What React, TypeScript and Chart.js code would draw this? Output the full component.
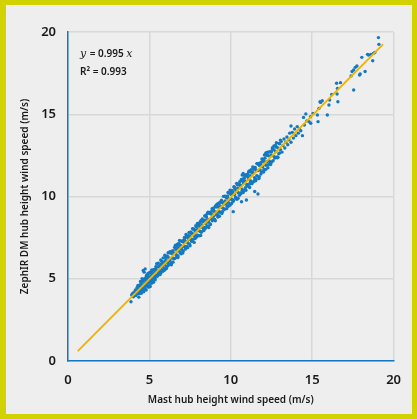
import React, { useEffect, useRef } from "react";
import { Chart, registerables } from "chart.js";

Chart.register(...registerables);

// Mast (x) vs ZephIR DM (y) hub height wind speed, m/s
const lowWindPoints: [number, number][] = [
  [3.87,3.6],[3.91,4.01],[3.97,4.1],[4.02,3.9],[4.06,4.18],[4.1,4.02],[4.14,4.32],[4.17,3.98],[4.2,4.2],[4.24,4.45],
  [4.27,4.08],[4.3,4.3],[4.33,4.55],[4.36,4.15],[4.39,4.38],[4.42,4.62],[4.45,4.22],[4.47,4.45],[4.5,4.7],[4.52,4.28],
  [4.55,4.52],[4.57,4.85],[4.6,4.35],[4.62,5.5],[4.64,4.62],[4.66,4.98],[4.68,5.4],[4.7,4.42],[4.72,4.75],[4.74,5.6],
  [4.76,5.05],[4.78,4.55],[4.8,4.88],[4.82,5.2],[4.84,4.62],[4.86,5.0],[4.88,4.75],[4.9,5.3],[4.92,4.52],[4.94,5.1],
  [4.96,4.82],[4.98,5.36],[5.0,4.6],[5.02,5.02],[5.04,4.78],[5.06,5.4],[5.08,4.88],[5.1,5.18],[5.13,4.72],[5.15,5.48],
  [5.18,5.0],[5.2,5.28],[5.23,4.9],[5.26,5.55],[5.29,5.12],[5.32,5.38],[5.35,5.02],[5.38,5.6],[5.41,5.2],[5.44,5.45],
  [5.47,5.15],[5.5,5.72],[5.53,5.3],[5.56,5.52],[5.59,5.25],[5.62,5.8],[5.65,5.42],[5.68,5.65],[5.71,5.35],[5.74,5.9],
  [5.77,5.52],[5.8,5.75],[5.83,5.45],[5.86,6.0],[5.89,5.62],[5.92,5.85],[5.95,5.55],[5.98,6.1]
];

const midWindPoints: [number, number][] = [
  [6.02,6.10],[6.05,5.76],[6.09,6.38],[6.11,5.99],[6.15,6.32],[6.18,5.83],[6.20,6.21],[6.24,6.58],[6.27,6.08],[6.30,6.24],
  [6.33,6.56],[6.36,5.96],[6.40,6.52],[6.42,6.27],[6.45,6.71],[6.49,6.23],[6.52,6.56],[6.55,6.23],[6.58,6.89],[6.60,6.51],
  [6.64,6.79],[6.67,6.45],[6.70,6.68],[6.73,7.10],[6.76,6.39],[6.80,6.87],[6.82,6.71],[6.86,7.06],[6.89,6.59],[6.92,7.02],
  [6.95,7.29],[6.98,6.79],[7.01,6.95],[7.04,7.27],[7.07,6.67],[7.10,7.22],[7.13,6.98],[7.16,7.42],[7.20,6.94],[7.22,7.26],
  [7.25,6.93],[7.28,7.59],[7.32,7.23],[7.35,7.50],[7.38,7.16],[7.41,7.39],[7.44,7.81],[7.47,7.10],[7.50,7.57],[7.53,7.42],
  [7.57,7.77],[7.60,7.30],[7.63,7.73],[7.66,7.74],[7.69,7.40],[7.72,8.01],[7.75,7.63],[7.78,7.95],[7.82,7.47],[7.85,7.86],
  [7.88,8.14],[7.91,7.65],[7.94,7.98],[7.97,7.65],[8.00,8.31],[8.03,7.94],[8.06,8.21],[8.10,7.88],[8.13,8.11],[8.16,8.53],
  [8.19,7.82],[8.22,8.29],[8.25,8.14],[8.28,8.48],[8.32,8.02],[8.35,8.55],[8.38,8.56],[8.41,8.12],[8.44,8.83],[8.47,8.35],
  [8.50,8.77],[8.54,8.19],[8.57,8.58],[8.60,9.04],[8.63,8.44],[8.66,8.60],[8.70,9.03],[8.73,8.33],[8.76,8.98],[8.80,8.65]
];

const upperWindPoints: [number, number][] = [
  [8.83,8.91],[8.86,8.53],[8.90,9.21],[8.93,8.79],[8.96,9.14],[9.00,8.61],[9.03,9.04],[9.06,9.43],[9.10,8.88],[9.13,9.06],
  [9.16,9.41],[9.20,8.75],[9.23,9.36],[9.26,9.09],[9.30,9.58],[9.33,9.04],[9.36,9.40],[9.40,9.04],[9.43,9.77],[9.46,9.35],
  [9.50,9.66],[9.53,9.28],[9.56,9.53],[9.60,10.00],[9.63,9.22],[9.66,9.73],[9.70,9.57],[9.73,9.94],[9.76,9.42],[9.80,9.90],
  [9.83,10.24],[9.86,9.63],[9.90,9.83],[9.93,10.20],[9.96,9.48],[10.00,10.14],[10.03,9.85],[10.06,10.37],[10.10,9.79],[10.13,10.18],
  [10.16,9.77],[10.20,10.57],[10.23,10.12],[10.26,10.44],[10.30,9.93],[10.33,10.30],[10.36,10.80],[10.40,9.85],[10.43,10.51],[10.46,10.23],
  [10.50,10.74],[10.53,10.07],[10.56,10.68],[10.60,10.69],[10.63,10.18],[10.66,11.01],[10.70,10.45],[10.73,10.93],[10.76,10.24],[10.80,10.81],
  [10.83,11.13],[10.86,10.39],[10.90,10.94],[10.93,10.38],[10.96,11.32],[11.00,10.73],[11.03,11.20],[11.06,10.63],[11.10,11.06],[11.13,11.56],
  [11.16,10.55],[11.20,11.27],[11.23,10.94],[11.26,11.49],[11.30,10.78],[11.33,11.44],[11.36,11.44],[11.40,10.89],[11.43,11.77],[11.46,11.15],
  [11.50,11.69],[11.53,10.95],[11.56,11.56],[11.60,12.00],[11.63,11.24],[11.66,11.58],[11.70,11.96],[11.73,11.09],[11.76,11.89],[11.80,11.61],
  [11.84,11.94],[11.88,11.49],[11.92,12.29],[11.96,11.80],[12.00,12.21],[12.04,11.58],[12.08,12.09],[12.12,12.55],[12.16,11.90],[12.20,12.11],
  [12.24,12.53],[12.28,11.75],[12.32,12.47],[12.36,12.16],[12.40,12.73],[12.44,12.09],[12.48,12.52],[12.52,12.10],[12.56,12.96],[12.60,12.47],
  [12.65,12.84],[12.70,12.41],[12.75,12.72],[12.80,13.27],[12.85,12.36],
  [10.15,9.08],[10.66,9.68],[10.96,9.79],[11.47,10.3],[11.67,10.15],[10.76,11.4],[10.7,11.3],[12.07,12.52],[12.15,12.65]
];

const bandEdgePoints: [number, number][] = [
  [4.30,4.60],[4.35,3.88],[4.40,4.10],[4.45,4.83],[4.50,4.12],[4.55,5.01],[4.60,4.88],[4.65,4.21],[4.70,4.94],[4.75,4.35],
  [4.80,4.32],[4.85,5.17],[4.90,5.17],[4.95,4.49],[5.00,5.35],[5.05,4.53],[5.10,5.39],[5.15,5.54],[5.20,4.86],[5.25,4.78],
  [5.30,5.56],[5.35,4.93],[5.40,5.74],[5.45,5.91],[5.50,5.18],[5.55,5.95],[5.60,5.32],[5.65,5.25],[5.70,6.14],[5.75,6.07],
  [5.80,5.49],[5.85,6.27],[5.90,5.51],[5.95,6.43],[6.00,6.29],[6.05,5.62],[6.10,5.76],[6.15,6.58],[6.20,5.90],[6.25,6.63],
  [6.30,6.64],[6.35,5.85],[6.40,6.68],[6.45,6.01],[6.50,6.22],[6.55,6.91],[6.60,7.04],[6.65,6.29],[6.70,6.97],[6.75,6.29],
  [6.80,7.15],[6.85,7.33],[6.90,6.57],[6.95,6.52],[7.00,7.28],[7.05,6.56],[7.10,7.34],[7.15,7.51],[7.20,6.80],[7.25,7.69],
  [7.30,6.96],[7.35,6.89],[7.40,7.62],[7.45,7.79],[7.50,7.00],[7.55,7.85],[7.60,7.27],[7.65,8.05],[7.70,8.03],[7.75,7.21],
  [7.80,7.45],[7.85,8.22],[7.90,7.54],[7.95,8.36],[8.00,8.24],[8.05,7.61],[8.10,8.42],[8.15,7.63],[8.20,7.86],[8.25,8.63],
  [8.30,8.52],[8.35,7.93],[8.40,8.82],[8.45,8.07],[8.50,8.75],[8.55,8.95],[8.60,8.19],[8.65,8.11],[8.70,8.97],[8.75,8.30],
  [8.80,9.08],[8.85,9.26],[8.90,8.58],[8.95,9.31],[9.00,8.60],[9.05,8.53],[9.10,9.36],[9.15,9.53],[9.20,8.90],[9.25,9.59],
  [9.30,8.80],[9.35,9.65],[9.40,9.65],[9.45,8.97],[9.50,9.09],[9.55,10.01],[9.60,9.25],[9.65,10.02],[9.70,9.98],[9.75,9.26],
  [9.80,10.04],[9.85,9.41],[9.90,9.50],[9.95,10.39],[10.00,10.24],[10.05,9.57],[10.10,10.30],[10.15,9.71],[10.20,10.60],[10.25,10.53],
  [10.30,9.95],[10.35,9.85],[10.40,10.71],[10.45,9.89],[10.50,10.75],[10.55,10.90],[10.60,10.22],[10.65,11.04],[10.70,10.36],[10.75,10.29],
  [10.80,11.10],[10.85,11.27],[10.90,10.54],[10.95,11.31],[11.00,10.68],[11.05,11.37],[11.10,11.50],[11.15,10.75],[11.20,10.85],[11.25,11.63],
  [11.30,10.87],[11.35,11.79],[11.40,11.65],[11.45,10.98],[11.50,11.76],[11.55,11.04],[11.60,11.26],[11.65,11.99],[11.70,12.00],[11.75,11.21],
  [11.80,12.04],[11.85,11.37],[11.90,12.10],[11.95,12.27],[12.00,11.48],[12.05,11.65],[12.10,12.33],[12.15,11.65],[12.20,12.51],[12.25,12.69],
  [12.30,11.93],[12.35,12.70],[12.40,12.02],[12.45,11.94],[12.50,12.72],[12.55,12.89],[12.60,12.18],[12.65,13.07],[12.70,12.34],[12.75,13.11],
  [12.80,13.00],[12.85,12.41],[12.90,12.38],[12.95,13.23],[13.00,12.65],[13.05,13.43]
];

const highWindPoints: [number, number][] = [
  [12.9,12.95],[12.95,12.6],[13.0,13.2],[13.05,12.85],[13.1,13.35],[13.15,12.7],[13.2,13.1],[13.27,13.5],[13.32,12.95],[13.38,13.3],
  [13.45,13.62],[13.5,13.15],[13.57,13.45],[13.62,13.85],[13.7,13.3],[13.78,13.9],[13.85,13.55],[13.92,14.1],[14.0,13.7],[14.08,14.25],
  [14.15,13.85],[14.22,14.12],[13.7,14.29],[14.3,14.0],[14.4,13.7],[14.47,14.81],[14.52,14.35],[14.61,15.02],[14.67,14.6],[14.81,14.55],
  [14.91,14.45],[14.9,14.85],[15.05,15.05],[15.32,14.95],[15.36,14.55],[15.42,15.36],[15.48,15.76],[15.52,15.72],[15.62,15.82],[15.93,14.95],
  [16.03,15.56],[16.07,15.87],[16.2,16.2],[16.5,16.88],[16.53,16.23],[16.58,15.76],[16.74,16.92],[16.55,16.57],[17.39,17.33],[17.45,17.6],
  [17.55,17.69],[17.55,16.47],[17.65,17.85],[17.75,17.93],[17.91,17.39],[17.95,17.45],[18.05,18.46],[18.25,17.6],[18.4,18.64],[18.46,18.6],
  [18.6,18.64],[18.72,18.25],[18.76,18.7],[18.85,18.75],[19.07,19.66],[19.1,19.25]
];

// Fitted line y = 0.995 x
const fitX = [0.6, 19.35];
const fitY = [0.6, 19.25];

const axisTicks = [0, 5, 10, 15, 20];
const equationText = "= 0.995 ";
const r2Text = "R² = 0.993";

const BLUE = "#1479c2";
const GOLD = "#f0b400";

export default function App() {
  const ref = useRef<HTMLCanvasElement | null>(null);

  useEffect(() => {
    if (!ref.current) return;
    const allPoints = [
      ...lowWindPoints,
      ...midWindPoints,
      ...upperWindPoints,
      ...bandEdgePoints,
      ...highWindPoints,
    ].map(([x, y]) => ({ x, y }));
    const linePts = fitX.map((x, i) => ({ x, y: fitY[i] }));

    const annot = {
      id: "annot",
      afterDraw(chart: any) {
        const { ctx, chartArea } = chart;
        ctx.save();
        ctx.fillStyle = "#1a1a1a";
        ctx.textBaseline = "alphabetic";
        const x0 = chartArea.left + 12;
        const y0 = chartArea.top + 25;
        ctx.font = "italic 11px 'DejaVu Serif'";
        ctx.fillText("y", x0, y0);
        const w = ctx.measureText("y ").width;
        ctx.font = "600 10px 'Noto Sans'";
        ctx.fillText(equationText, x0 + w, y0);
        const w2 = ctx.measureText(equationText).width;
        ctx.font = "italic 11px 'DejaVu Serif'";
        ctx.fillText("x", x0 + w + w2, y0);
        ctx.font = "600 10px 'Noto Sans'";
        ctx.fillText(r2Text, x0, y0 + 18);
        ctx.restore();
      },
    };

    const chart = new Chart(ref.current, {
      type: "scatter",
      data: {
        datasets: [
          {
            label: "fit",
            data: linePts,
            showLine: true,
            borderColor: GOLD,
            borderWidth: 2,
            pointRadius: 0,
            order: 0,
          } as any,
          {
            label: "data",
            data: allPoints,
            backgroundColor: BLUE,
            borderWidth: 0,
            pointRadius: 1.7,
            order: 1,
          },
        ],
      },
      options: {
        animation: false,
        responsive: false,
        layout: { padding: { left: 0, right: 15, top: 27, bottom: 8 } },
        plugins: { legend: { display: false }, tooltip: { enabled: false } },
        scales: {
          x: {
            type: "linear",
            min: 0,
            max: 20,
            afterBuildTicks: (s: any) => {
              s.ticks = axisTicks.map((v) => ({ value: v }));
            },
            afterFit: (s: any) => {
              s.height = 45;
            },
            grid: { color: "#d8d8d8", lineWidth: 1.5, drawTicks: false },
            border: { color: BLUE, width: 1.5 },
            ticks: { color: "#1a1a1a", padding: 11, font: { family: "'Noto Sans'", size: 13, weight: 600 } },
            title: {
              display: true,
              text: "Mast hub height wind speed (m/s)",
              color: "#1a1a1a",
              padding: { top: 2, bottom: 0 },
              font: { family: "'Noto Sans'", size: 10, weight: 600 },
            },
          },
          y: {
            type: "linear",
            min: 0,
            max: 20,
            afterBuildTicks: (s: any) => {
              s.ticks = axisTicks.map((v) => ({ value: v }));
            },
            afterFit: (s: any) => {
              s.width = 62;
            },
            grid: { color: "#d8d8d8", lineWidth: 1.5, drawTicks: false },
            border: { color: BLUE, width: 1.5 },
            ticks: { color: "#1a1a1a", padding: 12, font: { family: "'Noto Sans'", size: 13, weight: 600 } },
            title: {
              display: true,
              text: "ZephIR DM hub height wind speed (m/s)",
              color: "#1a1a1a",
              padding: { top: 13, bottom: 0 },
              font: { family: "'Noto Sans'", size: 10, weight: 600 },
            },
          },
        },
      },
      plugins: [annot],
    });
    return () => chart.destroy();
  }, []);

  return (
    <div
      style={{
        position: "fixed",
        left: 0,
        top: 0,
        width: 417,
        height: 419,
        boxSizing: "border-box",
        borderStyle: "solid",
        borderColor: "#d2d200",
        borderWidth: "5px 5px 5px 6px",
        background: "#eeeeee",
      }}
    >
      <canvas ref={ref} width={406} height={409} style={{ display: "block" }} />
    </div>
  );
}
